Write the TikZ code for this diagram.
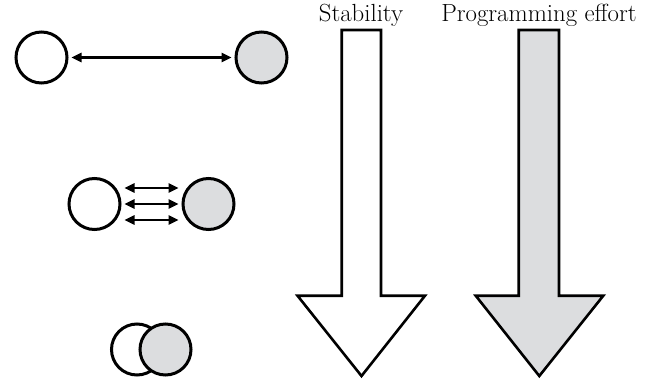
\documentclass[tikz,border=0pt]{standalone}
\usetikzlibrary{arrows.meta}
\definecolor{shade}{RGB}{220,221,223}
\begin{document}
\begin{tikzpicture}[x=1pt,y=-1pt,
  ball/.style={circle,draw=black,line width=3pt,minimum size=51pt,inner sep=0pt},
  hollow/.style={ball,fill=white},
  filled/.style={ball,fill=shade},
  link/.style={line width=2.4pt,{Triangle[length=10pt,width=9pt]}-{Triangle[length=10pt,width=9pt]},shorten <=3pt,shorten >=3pt},
  block/.style={draw=black,line width=2.6pt,line join=miter},
  caption/.style={anchor=base,inner sep=0pt,font=\fontsize{24.8}{29}\selectfont}]
\useasboundingbox (0,0) rectangle (647,382);

% loosely coupled pair
\node[hollow] (w1) at (41.5,57.5) {};
\node[filled] (g1) at (261.5,57.5) {};
\draw[link] (w1) -- (g1);

% tightly coupled pair
\node[hollow] (w2) at (94.5,204) {};
\node[filled] (g2) at (208.5,204) {};
\draw[link] ([yshift=16pt]w2.east) -- ([yshift=16pt]g2.west);
\draw[link] (w2.east) -- (g2.west);
\draw[link] ([yshift=-16pt]w2.east) -- ([yshift=-16pt]g2.west);

% merged pair
\node[hollow] (w3) at (137,349.5) {};
\node[filled] (g3) at (165.5,349.5) {};

% block arrows
\draw[block,fill=white] (341.7,30) -- (381,30) -- (381,295.7) -- (425,295.7)
  -- (361.5,376) -- (297.5,295.7) -- (341.7,295.7) -- cycle;
\draw[block,fill=shade] (518.7,30) -- (559,30) -- (559,295.7) -- (603.3,295.7)
  -- (539.3,376) -- (475.7,295.7) -- (518.7,295.7) -- cycle;

\node[caption] (stab) at (361,21.5) {Stability};
\node[caption] (prog) at (539,21.5) {Programming effort};
\end{tikzpicture}
\end{document}
